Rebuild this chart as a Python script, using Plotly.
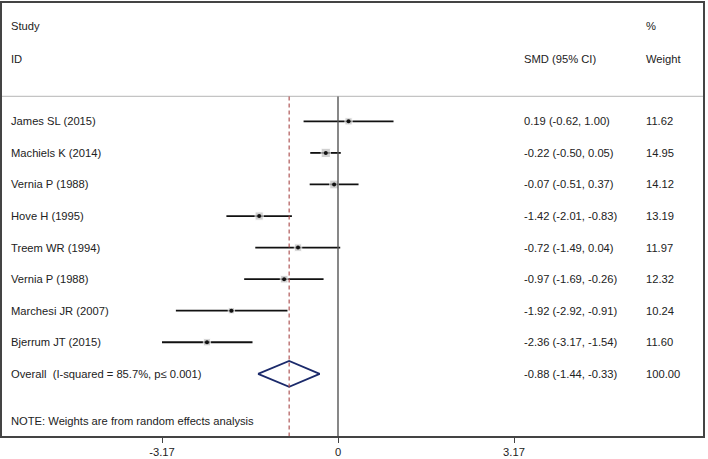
import plotly.graph_objects as go

studies = ["James SL (2015)", "Machiels K (2014)", "Vernia P (1988)", "Hove H (1995)",
           "Treem WR (1994)", "Vernia P (1988)", "Marchesi JR (2007)", "Bjerrum JT (2015)"]
smd = [0.19, -0.22, -0.07, -1.42, -0.72, -0.97, -1.92, -2.36]
lower = [-0.62, -0.50, -0.51, -2.01, -1.49, -1.69, -2.92, -3.17]
upper = [1.00, 0.05, 0.37, -0.83, 0.04, -0.26, -0.91, -1.54]
weights = [11.62, 14.95, 14.12, 13.19, 11.97, 12.32, 10.24, 11.60]

overall_label = "Overall  (I-squared = 85.7%, p\u2264 0.001)"
overall_smd = -0.88
overall_lower = -1.44
overall_upper = -0.33
overall_weight = 100.00

tick_vals = [-3.17, 0, 3.17]
tick_text = ["-3.17", "0", "3.17"]

note = "NOTE: Weights are from random effects analysis"

rows = list(range(len(studies)))
overall_row = len(studies)
note_row = overall_row + 1.5
study_hdr_row = -3.03
id_hdr_row = -1.99
sep_row = -0.79
y_top, y_bot = -3.75, 9.97

font = dict(family="Liberation Sans, Arial, sans-serif", size=11.2, color="#222222")

fig = go.Figure()

# CI lines with weighted squares
fig.add_trace(go.Scatter(
    x=smd, y=rows, mode="markers",
    marker=dict(size=[w * 0.62 for w in weights], symbol="square", color="#bdbdbd"),
    error_x=dict(type="data", symmetric=False,
                 array=[u - s for u, s in zip(upper, smd)],
                 arrayminus=[s - l for s, l in zip(smd, lower)],
                 thickness=1.8, width=0, color="#111111"),
    hoverinfo="skip", showlegend=False))
# point estimate dots
fig.add_trace(go.Scatter(
    x=smd, y=rows, mode="markers",
    marker=dict(size=4, color="#111111"),
    hoverinfo="skip", showlegend=False))

# Diamond
h = 0.41
fig.add_trace(go.Scatter(
    x=[overall_lower, overall_smd, overall_upper, overall_smd, overall_lower],
    y=[overall_row, overall_row - h, overall_row, overall_row + h, overall_row],
    mode="lines", line=dict(color="#1b2a6b", width=1.8),
    hoverinfo="skip", showlegend=False))

shapes = [
    dict(type="line", xref="paper", x0=0, x1=1, yref="y", y0=sep_row, y1=sep_row,
         line=dict(color="#c4c4c4", width=1.2)),
    dict(type="line", xref="x", x0=0, x1=0, yref="y", y0=sep_row, y1=y_bot,
         line=dict(color="#555555", width=1.4)),
    dict(type="line", xref="x", x0=overall_smd, x1=overall_smd, yref="y", y0=sep_row, y1=y_bot,
         line=dict(color="#a84848", width=1.1, dash="4px,3px")),
]

annotations = []
def txt(x, y, s):
    annotations.append(dict(xref="paper", yref="y", x=x, y=y, text=s, showarrow=False,
                            xanchor="left", yanchor="middle", font=font))

x_study, x_smd, x_w = 0.0095, 0.742, 0.916
txt(x_study, study_hdr_row, "Study")
txt(x_study, id_hdr_row, "ID")
txt(x_smd, id_hdr_row, "SMD (95% CI)")
txt(x_w, study_hdr_row, "%")
txt(x_w, id_hdr_row, "Weight")
for i, s in enumerate(studies):
    txt(x_study, i, s)
    txt(x_smd, i, f"{smd[i]:.2f} ({lower[i]:.2f}, {upper[i]:.2f})")
    txt(x_w, i, f"{weights[i]:.2f}")
txt(x_study, overall_row, overall_label)
txt(x_smd, overall_row, f"{overall_smd:.2f} ({overall_lower:.2f}, {overall_upper:.2f})")
txt(x_w, overall_row, f"{overall_weight:.2f}")
txt(x_study, note_row, note)

px_per_unit = 55.52
x0_px = 338
left_px, right_px = 2, 703

fig.update_layout(
    width=708, height=459,
    margin=dict(l=left_px, r=708 - right_px, t=1, b=459 - 436),
    paper_bgcolor="white", plot_bgcolor="white",
    shapes=shapes, annotations=annotations,
    xaxis=dict(range=[(left_px - x0_px) / px_per_unit, (right_px - x0_px) / px_per_unit],
               tickvals=tick_vals, ticktext=tick_text, ticks="outside", ticklen=5,
               tickcolor="#444444", tickwidth=1, showgrid=False, zeroline=False,
               showline=True, linecolor="#444444", linewidth=1.5, mirror=True,
               tickfont=font, fixedrange=True),
    yaxis=dict(range=[y_bot, y_top], showticklabels=False, ticks="", showgrid=False,
               zeroline=False, showline=True, linecolor="#444444", linewidth=1.5,
               mirror=True, fixedrange=True),
)

fig.write_html("out.html", config={"displayModeBar": False},
               post_script="document.body.style.margin='0';document.body.style.overflow='hidden';")
